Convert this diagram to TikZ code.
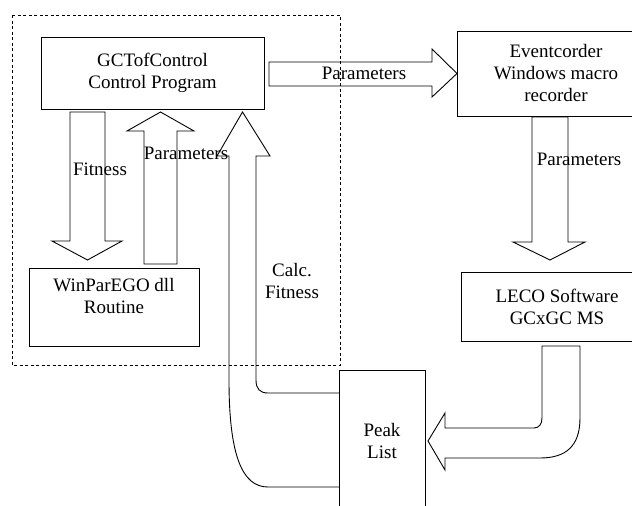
\documentclass[tikz,border=0pt]{standalone}
\usepackage{fontspec}
\setmainfont{Liberation Serif}
\newfontfamily\timesfont{Liberation Serif}
\begin{document}
\begin{tikzpicture}[x=1pt,y=-1pt,line width=0.9pt,
    box/.style={draw, align=center, inner sep=0pt, font=\timesfont\fontsize{19}{22}\selectfont},
    blockarrow/.style={draw, line join=miter},
    lbl/.style={align=center, inner sep=0pt, font=\timesfont\fontsize{19}{22.5}\selectfont},
    group/.style={line width=0.8pt, dash pattern=on 3pt off 2.5pt}]
\clip (0,0) rectangle (632,506);
\draw[group] (12,15) rectangle (340,365);
\node[box, minimum width=223, minimum height=72] (gc) at (152.5,73) {GCTofControl\\Control Program};
\node[box, minimum width=170, minimum height=78] (win) at (114,307) {WinParEGO dll\\Routine\\\mbox{}};
\node[box, minimum width=198, minimum height=85] (event) at (556,73.5) {Eventcorder\\Windows macro\\recorder};
\node[box, minimum width=192, minimum height=69] (leco) at (557,306.5) {LECO Software\\GCxGC MS};
\node[box, minimum width=86, minimum height=164] (peak) at (382,452) {Peak\\List\\\mbox{}};
% fitness / parameters between control program and dll
\draw[blockarrow] (70,112) -- (105,112) -- (105,241) -- (122,241) -- (87.5,260) -- (52,241) -- (70,241) -- cycle;
\draw[blockarrow] (144,264) -- (177,264) -- (177,131) -- (194,131) -- (160.5,112) -- (127,131) -- (144,131) -- cycle;
% parameters to the macro recorder and on to LECO
\draw[blockarrow] (269,62) -- (432,62) -- (432,49) -- (457,73.5) -- (432,97) -- (432,86) -- (269,86) -- cycle;
\draw[blockarrow] (532,117) -- (568,117) -- (568,242) -- (585,242) -- (550,260) -- (513,242) -- (532,242) -- cycle;
% LECO to peak list
\draw[blockarrow] (542,346) -- (580,346) -- (580,418) .. controls (580,446) and (566,458) .. (540,458)
    -- (445,458) -- (445,470) -- (428,441) -- (445,413) -- (445,428) -- (534,428)
    .. controls (539,428) and (542,424) .. (542,418) -- cycle;
% peak list back to control program
\draw[blockarrow] (339,393) -- (268,393) .. controls (260,393) and (256,389) .. (256,380) -- (256,156)
    -- (270,156) -- (242.5,112) -- (217,156) -- (229,156) -- (229,380)
    .. controls (229,455) and (242,487) .. (268,487) -- (339,487);
\node[lbl] (fitlbl) at (100,169) {Fitness};
\node[lbl] (parlbl) at (186,153) {Parameters};
\node[lbl] (parlblb) at (364,73) {Parameters};
\node[lbl] (parlblc) at (579,159) {Parameters};
\node[lbl] (calclbl) at (292,281) {Calc.\\Fitness};
\end{tikzpicture}
\end{document}
